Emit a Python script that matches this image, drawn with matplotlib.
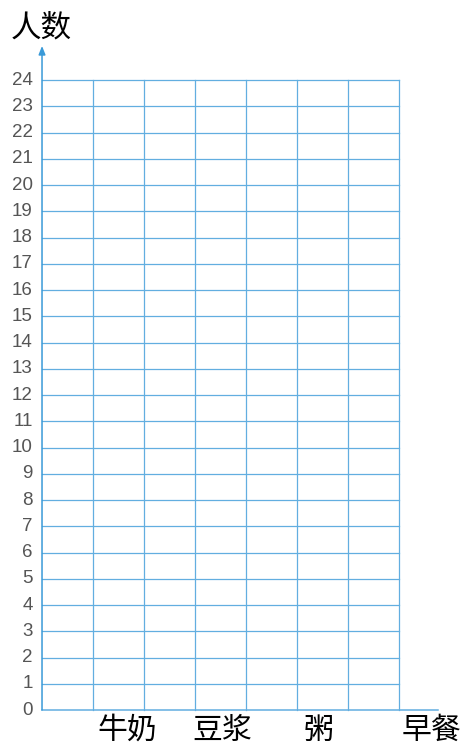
import matplotlib.pyplot as plt
import numpy as np

plt.rcParams['font.family'] = ['Noto Sans CJK SC', 'DejaVu Sans']

# data
y_ticks = list(range(0, 25))
categories = ["牛奶", "豆浆", "粥"]
cat_pos = [1.67, 3.53, 5.43]
n_cols = 7
x_label = "早餐"
y_label = "人数"

grid_col = "#62aee0"
text_col = "#555555"

fig = plt.figure(figsize=(4.64, 7.45), dpi=100)
ax = fig.add_axes([0, 0, 1, 1])
ax.set_xlim(-0.824, 8.275)
ax.set_ylim(-1.333, 27.05)
ax.axis("off")

top = max(y_ticks)
# horizontal grid lines
for y in y_ticks[1:]:
    ax.plot([0, n_cols], [y, y], color=grid_col, lw=0.9)
# vertical grid lines
for x in range(1, n_cols + 1):
    ax.plot([x, x], [0, top], color=grid_col, lw=0.9)

# x axis
ax.plot([0, 7.76], [0, 0], color=grid_col, lw=1.1)
# y axis with arrow
ax.annotate("", xy=(0, 25.3), xytext=(0, 0),
            arrowprops=dict(arrowstyle="-|>,head_length=0.5,head_width=0.2",
                            color="#3a9ad8", lw=1.1, shrinkA=0, shrinkB=0))

for y in y_ticks:
    ax.text(-0.18, y, str(y), ha="right", va="center", fontsize=13.5,
            color=text_col, family="Liberation Sans")

for c, p in zip(categories, cat_pos):
    ax.text(p, -0.78, c, ha="center", va="center", fontsize=21.5,
            color="black", weight="medium")

ax.text(7.63, -0.78, x_label, ha="center", va="center", fontsize=21.5,
        color="black", weight="medium")
ax.text(-0.01, 26.0, y_label, ha="center", va="center", fontsize=22,
        color="black", weight="medium")

plt.savefig("out.png", dpi=100)
